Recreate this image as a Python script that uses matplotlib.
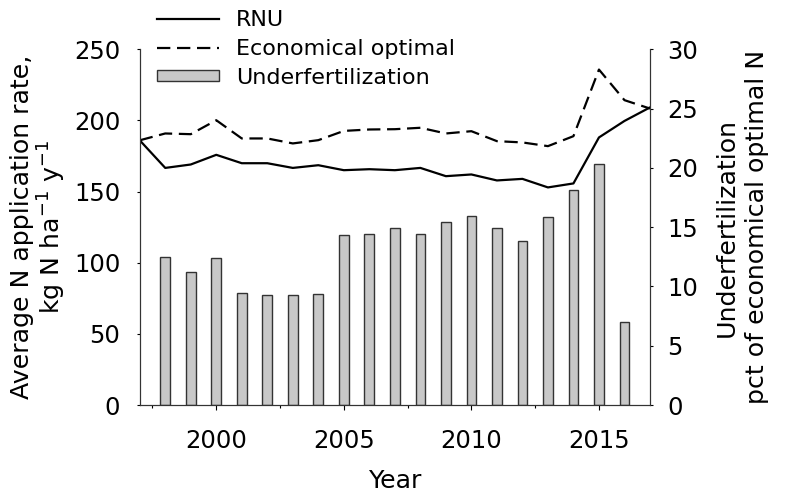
import numpy as np
import matplotlib
matplotlib.use('Agg')
import matplotlib.pyplot as plt
from matplotlib.ticker import MultipleLocator

# yearly values
line_years = list(range(1997, 2018))
rnu = [186, 166.6, 169, 175.8, 169.9, 169.9, 166.6, 168.5, 165, 165.7, 165,
       166.6, 160.8, 162, 157.8, 158.9, 152.9, 155.7, 188, 199.6, 209.1]
econ_opt = [186, 190.8, 190.3, 200.1, 187.3, 187.3, 183.8, 186.1, 192.6, 193.6, 193.8,
            194.8, 190.8, 192.4, 185.4, 184.5, 181.9, 188.9, 235.7, 214.2, 208.3]

bar_years = list(range(1998, 2017))
underfert = [12.44, 11.23, 12.38, 9.46, 9.29, 9.29, 9.38, 14.3, 14.38, 14.96,
             14.38, 15.45, 15.95, 14.94, 13.82, 15.87, 18.11, 20.3, 7.02]

plt.rcParams['font.family'] = 'DejaVu Sans'
fs = 17.5      # tick labels
fs_lab = 18.2  # axis titles
fs_leg = 16

fig = plt.figure(figsize=(7.85, 4.97), dpi=100)
ax = fig.add_axes([0.178, 0.185, 0.65, 0.716])
ax2 = ax.twinx()

# bars on the right axis, lines on the left one drawn above them
ax.set_zorder(ax2.get_zorder() + 1)
ax.patch.set_visible(False)

b = ax2.bar(bar_years, underfert, width=0.38, color='#c8c8c8',
            edgecolor='#333333', linewidth=1.0, label='Underfertilization')
l1, = ax.plot(line_years, rnu, color='black', lw=1.6, label='RNU')
l2, = ax.plot(line_years, econ_opt, color='black', lw=1.6,
              linestyle=(0, (6, 3)), label='Economical optimal')

ax.set_xlim(1997, 2017)
ax.set_ylim(0, 250)
ax2.set_ylim(0, 30)
ax.yaxis.set_major_locator(MultipleLocator(50))
ax2.yaxis.set_major_locator(MultipleLocator(5))
ax.xaxis.set_major_locator(MultipleLocator(5))
ax.set_xticks([1997.5, 2002.5, 2007.5, 2012.5], minor=True)

for a in (ax, ax2):
    a.spines['top'].set_visible(False)
    for s in a.spines.values():
        s.set_linewidth(0.8)
        s.set_color('#333333')
ax.tick_params(axis='y', labelsize=fs, length=2.5, width=0.8, pad=11.5)
ax2.tick_params(axis='y', labelsize=fs, length=2.5, width=0.8, pad=10)
ax.tick_params(axis='x', which='major', labelsize=fs, length=3.5, width=0.8, pad=14)
ax.tick_params(axis='x', which='minor', length=2.5, width=0.8)

ax.set_xlabel('Year', fontsize=fs_lab, labelpad=11)
ax.set_ylabel('Average N application rate,\nkg N ha$^{-1}$ y$^{-1}$',
              fontsize=fs_lab, labelpad=4, linespacing=1.1)
ax2.set_ylabel('Underfertilization\npct of economical optimal N',
               fontsize=fs_lab, labelpad=12, linespacing=1.3)

fig.legend([l1, l2, b], ['RNU', 'Economical optimal', 'Underfertilization'],
           loc='upper left', bbox_to_anchor=(0.2, 0.98), frameon=False,
           fontsize=fs_leg, handlelength=2.8, handleheight=0.4,
           labelspacing=0.4, handletextpad=0.75, borderaxespad=0, borderpad=0)

fig.savefig('out.png', dpi=100)
